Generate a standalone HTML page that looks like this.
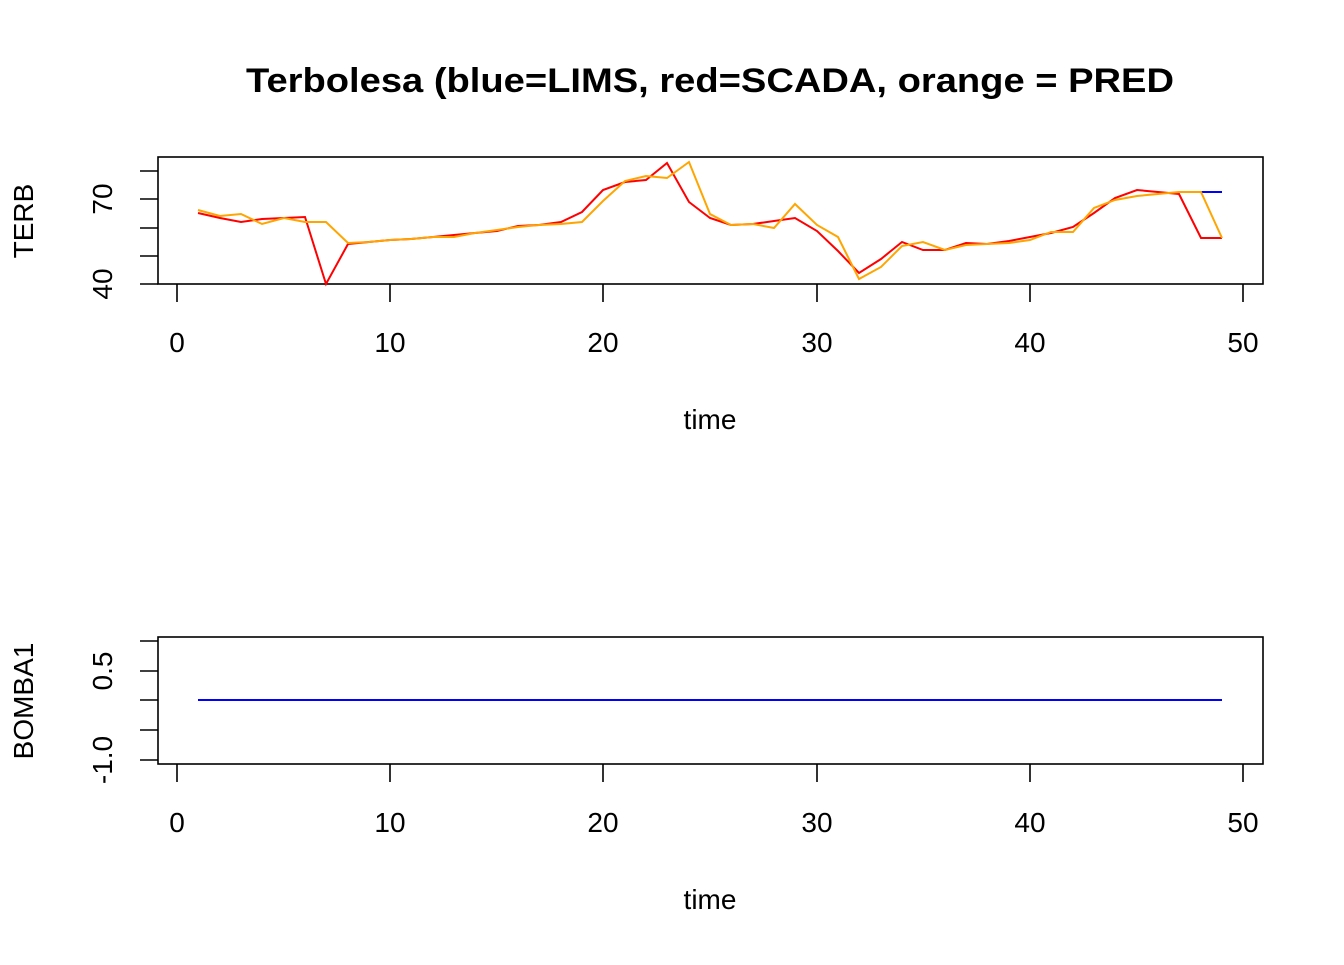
<!DOCTYPE html><html><head><style>body{margin:0;background:#fff}svg text{font-family:"Liberation Sans",sans-serif}</style></head><body>
<svg width="1344" height="960" xmlns="http://www.w3.org/2000/svg">
<text x="710" y="92" text-anchor="middle" font-size="34" font-weight="bold" textLength="928" lengthAdjust="spacingAndGlyphs">Terbolesa (blue=LIMS, red=SCADA, orange = PRED</text>
<g stroke="#000" stroke-width="1.6" fill="none">
<rect x="158" y="157" width="1105" height="127"/>
<path d="M177 284v18M390 284v18M603 284v18M817 284v18M1030 284v18M1243 284v18"/>
<path d="M158 284h-18M158 256h-18M158 228h-18M158 199h-18M158 171h-18"/>
<rect x="158" y="637" width="1105" height="127"/>
<path d="M177 764v18M390 764v18M603 764v18M817 764v18M1030 764v18M1243 764v18"/>
<path d="M158 760h-18M158 730h-18M158 700h-18M158 671h-18M158 641h-18"/>
</g>
<g font-size="28" text-anchor="middle">
<text x="177" y="352">0</text><text x="390" y="352">10</text><text x="603" y="352">20</text><text x="817" y="352">30</text><text x="1030" y="352">40</text><text x="1243" y="352">50</text>
<text x="710" y="429">time</text>
<text x="177" y="832">0</text><text x="390" y="832">10</text><text x="603" y="832">20</text><text x="817" y="832">30</text><text x="1030" y="832">40</text><text x="1243" y="832">50</text>
<text x="710" y="909">time</text>
<text transform="translate(112,284) rotate(-90)">40</text>
<text transform="translate(112,199) rotate(-90)">70</text>
<text transform="translate(33,221) rotate(-90)">TERB</text>
<text transform="translate(112,760) rotate(-90)">-1.0</text>
<text transform="translate(112,671) rotate(-90)">0.5</text>
<text transform="translate(33,701) rotate(-90)">BOMBA1</text>
</g>
<polyline fill="none" stroke="#0000ff" stroke-width="2" points="1179,192 1222,192"/>
<polyline fill="none" stroke="#ff0000" stroke-width="2" points="198,213 220,218 241,222 262,219 284,218 305,217 326,284 348,244 369,242 390,240 411,239 433,237 454,235 475,233 497,231 518,226 539,225 561,222 582,212 603,190 625,182 646,180 667,163 689,202 710,218 731,225 753,224 774,221 795,218 817,231 838,251 859,273 881,259 902,242 923,250 945,250 966,243 987,244 1009,241 1030,237 1051,233 1073,227 1094,213 1115,198 1137,190 1158,192 1179,194 1201,238 1222,238"/>
<polyline fill="none" stroke="#ffa500" stroke-width="2" points="198,210 220,216 241,214 262,224 284,218 305,222 326,222 348,243 369,242 390,240 411,239 433,237 454,237 475,233 497,230 518,227 539,225 561,224 582,222 603,201 625,181 646,176 667,178 689,162 710,214 731,225 753,224 774,228 795,204 817,225 838,237 859,279 881,267 902,246 923,242 945,250 966,245 987,244 1009,243 1030,240 1051,232 1073,232 1094,208 1115,200 1137,196 1158,194 1179,192 1201,192 1222,238"/>
<line x1="198" y1="700" x2="1222" y2="700" stroke="#0000ff" stroke-width="2"/>
</svg></body></html>
